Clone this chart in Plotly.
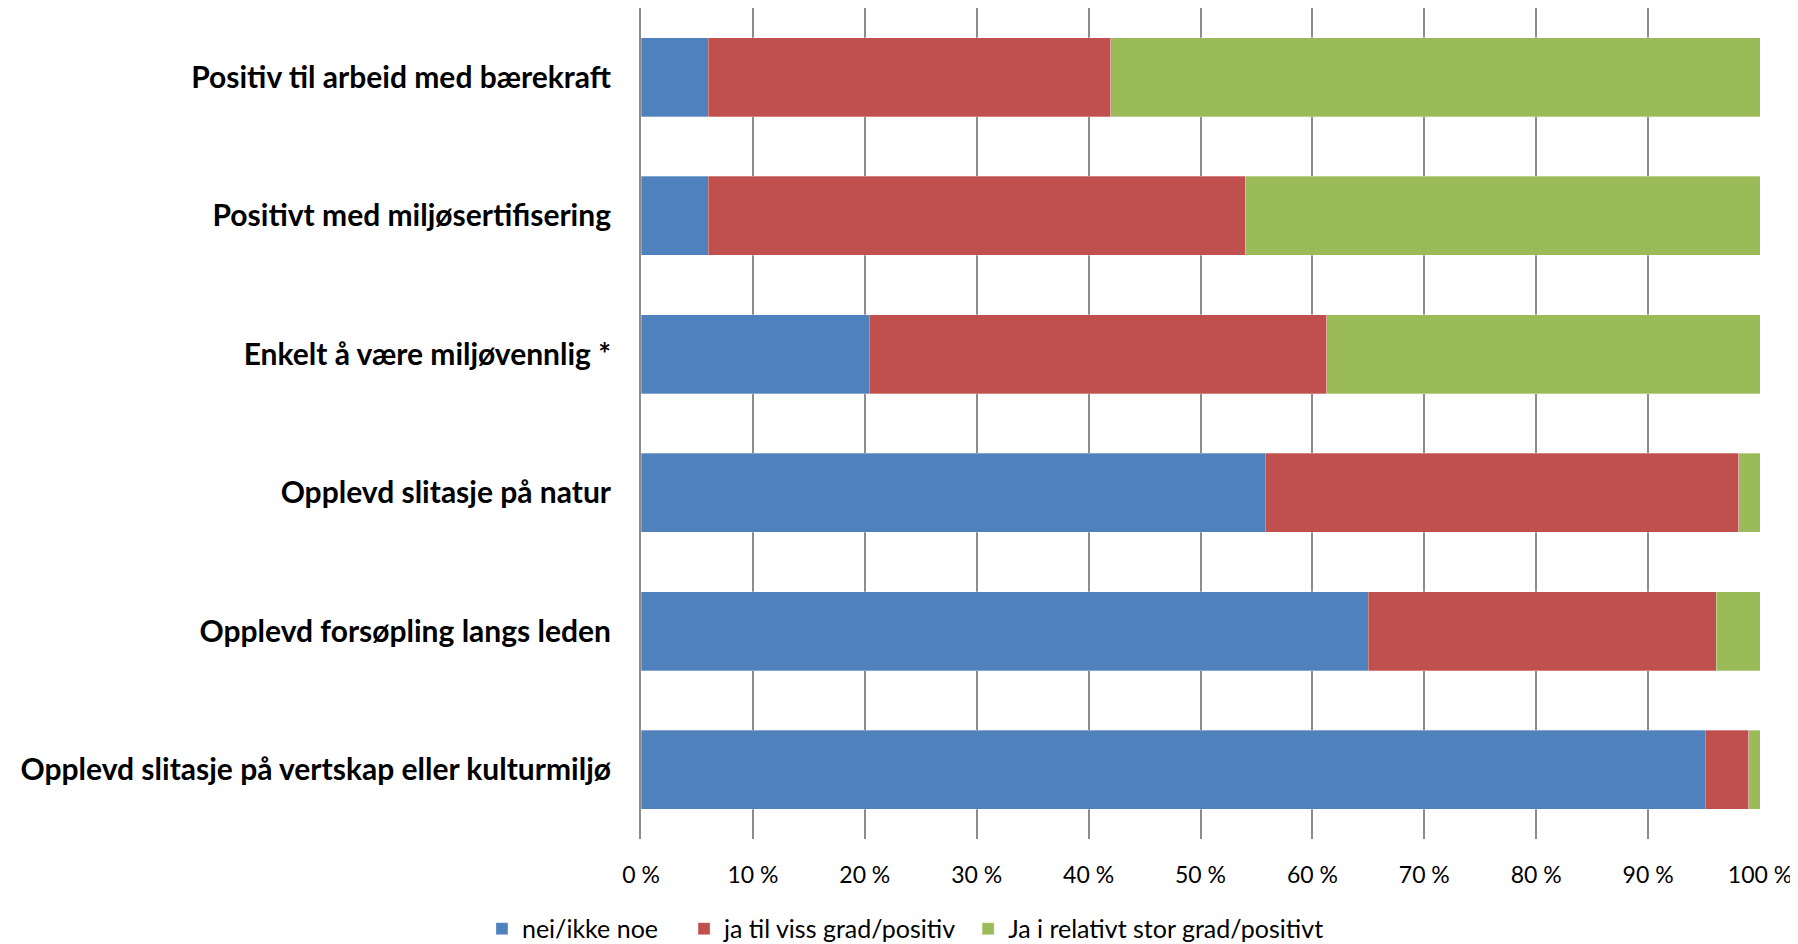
import plotly.graph_objects as go

categories = [
    "Positiv til arbeid med bærekraft",
    "Positivt med miljøsertifisering",
    "Enkelt å være miljøvennlig *",
    "Opplevd slitasje på natur",
    "Opplevd forsøpling langs leden",
    "Opplevd slitasje på vertskap eller kulturmiljø",
]
nei = [6.0, 6.0, 20.4, 55.8, 65.0, 95.1]
viss_grad = [36.0, 48.0, 40.9, 42.3, 31.1, 3.9]
stor_grad = [58.0, 46.0, 38.7, 1.9, 3.9, 1.0]

series_names = ["nei/ikke noe", "ja til viss grad/positiv", "Ja i relativt stor grad/positivt"]
colors = ["#4F81BD", "#C0504D", "#9BBB59"]
tick_vals = [0, 10, 20, 30, 40, 50, 60, 70, 80, 90, 100]
tick_text = [f"{v} %" for v in tick_vals]

# one legend per series so the entries sit where the original has them
legend_ids = ["legend", "legend2", "legend3"]
legend_x = [0.2636, 0.3760, 0.5340]

fig = go.Figure()
for name, vals, col, lg in zip(series_names, [nei, viss_grad, stor_grad], colors, legend_ids):
    fig.add_trace(go.Bar(
        y=categories, x=vals, name=name, orientation="h", legend=lg, showlegend=True,
        marker=dict(color=col, line=dict(width=0.5, color="rgba(255,255,255,0.6)")),
    ))

legend_style = dict(orientation="h", xref="container", yref="container",
                    y=0.0244, yanchor="middle", xanchor="left",
                    font=dict(size=25), itemwidth=30, bgcolor="rgba(0,0,0,0)")

fig.update_layout(
    showlegend=True,
    barmode="stack",
    bargap=0.43,
    width=1798, height=944,
    margin=dict(l=633, r=46, t=0, b=113, autoexpand=False),
    plot_bgcolor="white", paper_bgcolor="white",
    font=dict(family="Lato, Open Sans, sans-serif", color="black"),
    legend=dict(x=legend_x[0], **legend_style),
    legend2=dict(x=legend_x[1], **legend_style),
    legend3=dict(x=legend_x[2], **legend_style),
)
fig.update_xaxes(
    range=[0, 100], tickvals=tick_vals, ticktext=tick_text,
    showgrid=True, gridcolor="#8C8C8C", gridwidth=2,
    zeroline=False, showline=False, automargin=False,
    tickfont=dict(size=23), ticklabelstandoff=20,
)
fig.update_yaxes(
    autorange="reversed", showgrid=False, automargin=False,
    showline=True, linecolor="#8C8C8C", linewidth=2,
    tickfont=dict(size=30, family="Lato, Open Sans, sans-serif", weight="bold"),
    ticklabelstandoff=22,
)

fig.write_html("out.html")
